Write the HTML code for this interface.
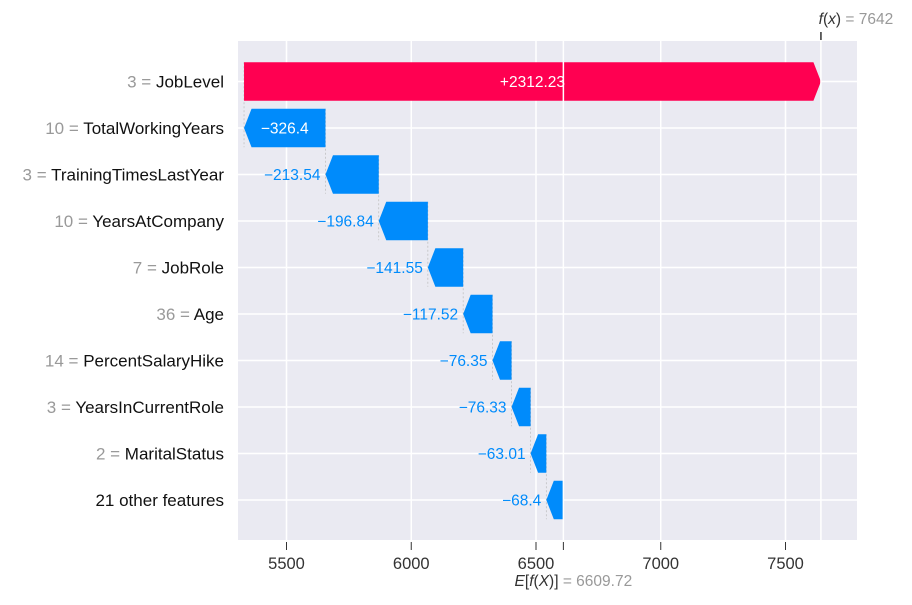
<!DOCTYPE html>
<html><head><meta charset="utf-8"><style>
body{margin:0;background:#fff;}
svg text{font-family:"Liberation Sans",sans-serif;}
</style></head><body>
<svg id="c" width="912" height="600" xmlns="http://www.w3.org/2000/svg"></svg>
<script>
const featureValues=["3","10","3","10","7","36","14","3","2",""];
const featureNames=["JobLevel","TotalWorkingYears","TrainingTimesLastYear","YearsAtCompany","JobRole","Age","PercentSalaryHike","YearsInCurrentRole","MaritalStatus","21 other features"];
const shapValues=[2312.23,-326.4,-213.54,-196.84,-141.55,-117.52,-76.35,-76.33,-63.01,-68.4];
const baseValue=6609.72;
const tickValues=[5500,6000,6500,7000,7500];

const NS="http://www.w3.org/2000/svg";
const svg=document.getElementById('c');
const L=238,R=857,T=41,B=540;
const x=v=>286.5+(v-5500)*0.2495;
const rowY=i=>81.5+i*46.5;
const BH=38.5;
function el(t,a,p){const e=document.createElementNS(NS,t);for(const k in a)e.setAttribute(k,a[k]);(p||svg).appendChild(e);return e;}
const bg=el('rect',{x:L,y:T,width:R-L,height:B-T,fill:'#eaeaf2'});


tickValues.forEach(t=>{
  const g=el('line',{x1:x(t),x2:x(t),y1:T,y2:B,stroke:'#fff','stroke-width':1.5});
  
  
  const tk=el('line',{x1:x(t),x2:x(t),y1:B+2,y2:B+10,stroke:'#333','stroke-width':1});
  
  
  const tl=el('text',{x:x(t),y:569,'text-anchor':'middle','font-size':16.5,fill:'#333'});
  tl.textContent=t;
  
  
});
featureNames.forEach((n,i)=>{
  const g=el('line',{x1:L,x2:R,y1:rowY(i),y2:rowY(i),stroke:'#fff','stroke-width':1.5});
  
  
});
const n=shapValues.length;
const ends=new Array(n),starts=new Array(n);
let cur=baseValue;
for(let i=n-1;i>=0;i--){starts[i]=cur;cur+=shapValues[i];ends[i]=cur;}
const fx=ends[0];
for(let i=0;i<n-1;i++){
  const c=el('line',{x1:x(ends[i+1]),x2:x(ends[i+1]),y1:rowY(i)-BH/2,y2:rowY(i+1)+BH/2,stroke:'#bbb','stroke-width':0.7,'stroke-dasharray':'2,2'});
  
  
}
for(let i=0;i<n;i++){
  const v=shapValues[i],y=rowY(i),x0=x(starts[i]),x1=x(ends[i]);
  const pos=v>0,col=pos?'#ff0051':'#008bfb';
  const w=Math.abs(x1-x0),hl=Math.min(7.5,w);
  const d=pos?
    `M${x0},${y-BH/2}L${x1-hl},${y-BH/2}L${x1},${y}L${x1-hl},${y+BH/2}L${x0},${y+BH/2}Z`:
    `M${x0},${y-BH/2}L${x1+hl},${y-BH/2}L${x1},${y}L${x1+hl},${y+BH/2}L${x0},${y+BH/2}Z`;
  const b=el('path',{d:d,fill:col});
  
  
  const txt=(pos?'+':'\u2212')+Math.abs(v);
  const inside=w>60;
  const t=el('text',{y:y+5.5,'font-size':15.5,fill:inside?'#fff':col,'text-anchor':inside?'middle':'end',x:inside?(x0+x1)/2:Math.min(x0,x1)-5});
  t.textContent=txt;
  
  
  const yl=el('text',{x:224,y:y+6,'text-anchor':'end','font-size':17,fill:'#111'});
  if(featureValues[i]){const s=el('tspan',{fill:'#999'},yl);s.textContent=featureValues[i]+' = ';}
  const s2=el('tspan',{},yl);s2.textContent=featureNames[i];
  
  
}
[baseValue,fx].forEach(v=>{
  const l=el('line',{x1:x(v),x2:x(v),y1:T,y2:B,stroke:'#fff','stroke-width':1.5});
  
  
});
const et=el('line',{x1:x(baseValue),x2:x(baseValue),y1:B+2,y2:B+10,stroke:'#333'});


const ft=el('line',{x1:x(fx),x2:x(fx),y1:32,y2:40,stroke:'#333','stroke-width':1.5});


const el1=el('text',{x:x(baseValue)+10,y:586,'text-anchor':'middle','font-size':15.5,fill:'#333'});
el1.innerHTML='<tspan font-style="italic">E</tspan>[<tspan font-style="italic">f</tspan>(<tspan font-style="italic">X</tspan>)] <tspan fill="#999">= '+baseValue+'</tspan>';


const fl=el('text',{x:x(fx)+35,y:24,'text-anchor':'middle','font-size':15.5,fill:'#333'});
fl.innerHTML='<tspan font-style="italic">f</tspan>(<tspan font-style="italic">x</tspan>) <tspan fill="#999">= '+Math.round(fx)+'</tspan>';


</script>
</body></html>
